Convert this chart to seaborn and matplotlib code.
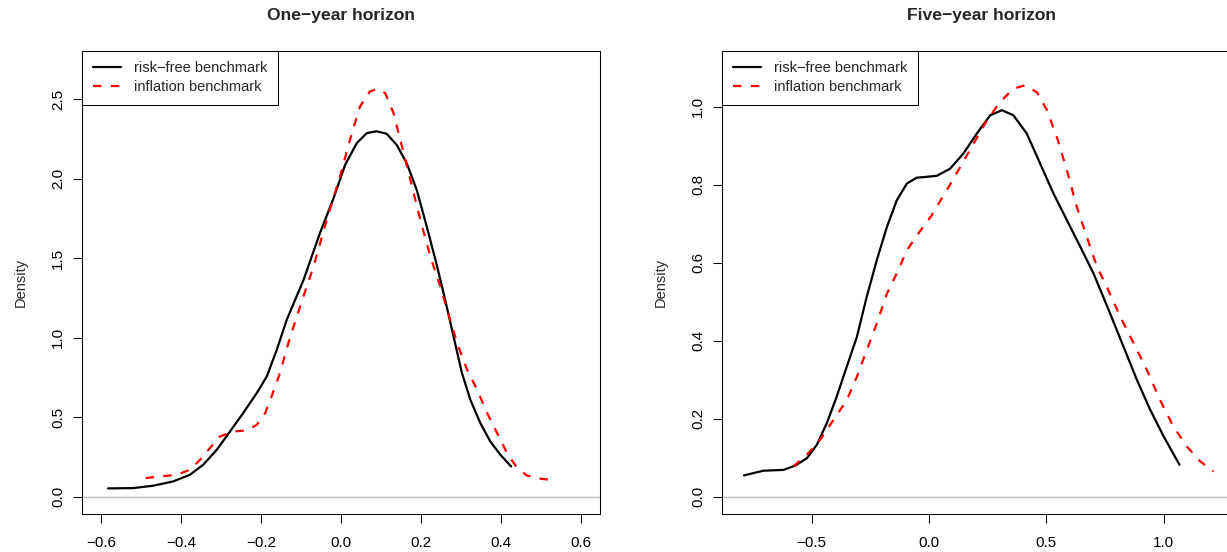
import numpy as np
import pandas as pd
import matplotlib
matplotlib.use("Agg")
import matplotlib.pyplot as plt
import seaborn as sns
from matplotlib.ticker import FuncFormatter

# ---------------- data ----------------
titles = ["One\u2212year horizon", "Five\u2212year horizon"]
series_labels = ["risk\u2212free benchmark", "inflation benchmark"]

one_rf_x = [-0.583, -0.520, -0.470, -0.420, -0.378, -0.345, -0.311, -0.278, -0.245, -0.211,
            -0.186, -0.161, -0.136, -0.094, -0.053, -0.019, 0.010, 0.039, 0.064, 0.088,
            0.114, 0.139, 0.164, 0.189, 0.214, 0.240, 0.260, 0.281, 0.302, 0.323,
            0.348, 0.373, 0.398, 0.425]
one_rf_y = [0.053, 0.055, 0.070, 0.097, 0.139, 0.202, 0.296, 0.411, 0.527, 0.653,
            0.757, 0.925, 1.114, 1.365, 1.659, 1.879, 2.089, 2.225, 2.288, 2.300,
            2.284, 2.214, 2.099, 1.931, 1.701, 1.449, 1.240, 1.009, 0.779, 0.611,
            0.464, 0.348, 0.265, 0.191]

one_inf_x = [-0.489, -0.453, -0.411, -0.378, -0.353, -0.328, -0.303, -0.270, -0.236, -0.211,
             -0.190, -0.174, -0.153, -0.132, -0.111, -0.069, -0.036, -0.003, 0.022, 0.047,
             0.072, 0.091, 0.110, 0.131, 0.152, 0.173, 0.198, 0.223, 0.248, 0.265,
             0.290, 0.315, 0.340, 0.365, 0.390, 0.415, 0.440, 0.465, 0.498, 0.527]
one_inf_y = [0.118, 0.128, 0.139, 0.170, 0.233, 0.307, 0.380, 0.411, 0.418, 0.453,
             0.527, 0.631, 0.779, 0.967, 1.135, 1.449, 1.743, 2.015, 2.246, 2.455,
             2.550, 2.567, 2.540, 2.414, 2.204, 1.994, 1.743, 1.512, 1.323, 1.177,
             0.967, 0.799, 0.674, 0.527, 0.401, 0.275, 0.181, 0.133, 0.114, 0.106]

five_rf_x = [-0.788, -0.705, -0.620, -0.570, -0.520, -0.478, -0.435, -0.393, -0.350, -0.307,
             -0.265, -0.222, -0.179, -0.137, -0.094, -0.052, 0.005, 0.034, 0.090, 0.147,
             0.204, 0.261, 0.311, 0.360, 0.417, 0.474, 0.531, 0.588, 0.645, 0.701,
             0.772, 0.829, 0.886, 0.943, 1.000, 1.068]
five_rf_y = [0.055, 0.067, 0.069, 0.080, 0.099, 0.133, 0.189, 0.257, 0.334, 0.410,
             0.513, 0.607, 0.692, 0.760, 0.803, 0.818, 0.821, 0.823, 0.841, 0.880,
             0.931, 0.978, 0.991, 0.978, 0.931, 0.854, 0.777, 0.709, 0.641, 0.573,
             0.470, 0.385, 0.300, 0.223, 0.155, 0.082]

five_inf_x = [-0.578, -0.520, -0.464, -0.407, -0.350, -0.307, -0.265, -0.222, -0.179, -0.137,
              -0.094, -0.045, 0.010, 0.076, 0.133, 0.190, 0.247, 0.303, 0.360, 0.410,
              0.460, 0.503, 0.545, 0.588, 0.630, 0.673, 0.716, 0.758, 0.815, 0.872,
              0.929, 0.985, 1.042, 1.099, 1.156, 1.213]
five_inf_y = [0.078, 0.108, 0.146, 0.197, 0.248, 0.308, 0.376, 0.445, 0.521, 0.573,
              0.632, 0.675, 0.720, 0.786, 0.845, 0.905, 0.965, 1.012, 1.046, 1.055,
              1.037, 0.991, 0.922, 0.837, 0.743, 0.666, 0.590, 0.538, 0.462, 0.394,
              0.325, 0.248, 0.180, 0.129, 0.091, 0.065]

one_xticks = [-0.6, -0.4, -0.2, 0.0, 0.2, 0.4, 0.6]
one_yticks = [0.0, 0.5, 1.0, 1.5, 2.0, 2.5]
five_xticks = [-0.5, 0.0, 0.5, 1.0]
five_yticks = [0.0, 0.2, 0.4, 0.6, 0.8, 1.0]

# ---------------- style ----------------
sns.set_style("white")
plt.rcParams["font.family"] = ["Liberation Sans", "DejaVu Sans"]
plt.rcParams["axes.unicode_minus"] = True

W, H = 1227, 552
fig = plt.figure(figsize=(W / 100, H / 100), dpi=100)

box_top, box_bot = 50.5, 514.0
ax1 = fig.add_axes([82 / W, 1 - box_bot / H, 518.3 / W, (box_bot - box_top) / H])
ax2 = fig.add_axes([722 / W, 1 - box_bot / H, 518.3 / W, (box_bot - box_top) / H])

FS = 10.5
TFS = 11
fmt = FuncFormatter(lambda v, p: f"{v:.1f}".replace("-", "\u2212"))

panels = [
    (ax1, titles[0], (one_rf_x, one_rf_y), (one_inf_x, one_inf_y), one_xticks, one_yticks,
     (-0.6, 0.6), (0.0, 2.7)),
    (ax2, titles[1], (five_rf_x, five_rf_y), (five_inf_x, five_inf_y), five_xticks, five_yticks,
     (-0.8, 1.245), (0.0, 1.1)),
]

for ax, title, rf, inf, xt, yt, xr, yr in panels:
    ax.axhline(0, color="#bebebe", lw=1.0, zorder=1)
    df_rf = pd.DataFrame({"x": rf[0], "y": rf[1]})
    df_inf = pd.DataFrame({"x": inf[0], "y": inf[1]})
    sns.lineplot(data=df_rf, x="x", y="y", ax=ax, color="black", lw=1.6, sort=False,
                 label=series_labels[0], zorder=3)
    sns.lineplot(data=df_inf, x="x", y="y", ax=ax, color="#ff0000", lw=1.6, sort=False,
                 label=series_labels[1], zorder=3, linestyle=(0, (3.8, 4.2)))
    dx = (xr[1] - xr[0]) * 0.04
    dy = (yr[1] - yr[0]) * 0.04
    ax.set_xlim(xr[0] - dx, xr[1] + dx)
    ax.set_ylim(yr[0] - dy, yr[1] + dy)
    ax.set_xticks(xt)
    ax.set_yticks(yt)
    ax.xaxis.set_major_formatter(fmt)
    ax.yaxis.set_major_formatter(fmt)
    ax.tick_params(axis="both", direction="out", length=6.3, width=0.75, color="black",
                   labelsize=TFS, labelcolor="black")
    ax.tick_params(axis="x", pad=9.5, bottom=True)
    ax.tick_params(axis="y", pad=6, left=True, labelrotation=90)
    for lab in ax.get_yticklabels():
        lab.set_va("center")
    for s in ax.spines.values():
        s.set_visible(True)
        s.set_color("black")
        s.set_linewidth(0.75)
    ax.set_xlabel("")
    ax.set_ylabel("Density", fontsize=FS, labelpad=17)
    ax.set_title(title, fontsize=12.6, fontweight="bold", pad=22)
    ax.grid(False)
    leg = ax.legend(loc="upper left", fontsize=FS, frameon=True, fancybox=False,
                    edgecolor="black", framealpha=1, borderaxespad=0, handlelength=1.95,
                    handletextpad=0.85, labelspacing=0.3, borderpad=0.75)
    leg.get_frame().set_linewidth(0.75)

fig.savefig("out.png", dpi=100)
